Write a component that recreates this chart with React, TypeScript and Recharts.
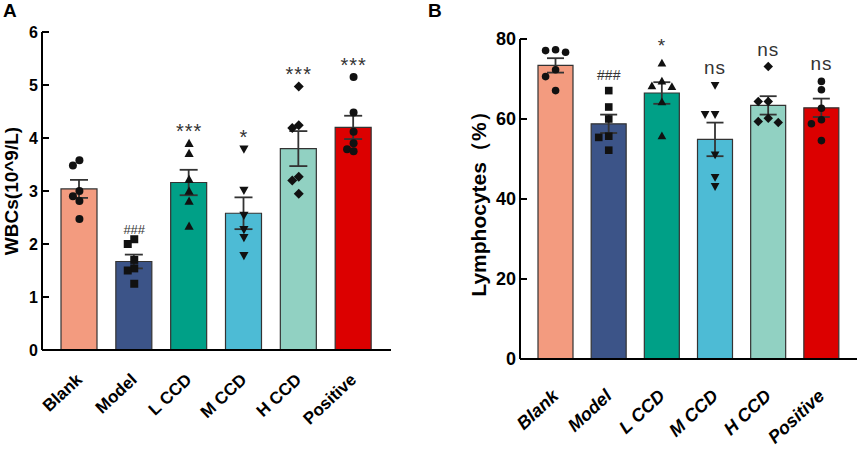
import React from 'react';
import { ComposedChart, Bar, Cell, ErrorBar, Scatter, XAxis, YAxis } from 'recharts';

const groups = ['Blank', 'Model', 'L CCD', 'M CCD', 'H CCD', 'Positive'];
const barColors = ['#F39B7F', '#3C5488', '#00A087', '#4DBBD5', '#91D1C2', '#DC0000'];
const markers = ['circle', 'square', 'triangle', 'triangleDown', 'diamond', 'circle'];

// panel A: WBCs (10^9/L)
const wbcMean = [3.04, 1.67, 3.16, 2.58, 3.80, 4.20];
const wbcSem = [0.17, 0.13, 0.24, 0.30, 0.33, 0.22];
const wbcPoints = [
    [3.48, 3.58, 3.00, 2.90, 2.81, 2.47],
    [2.09, 2.00, 1.70, 1.54, 1.50, 1.25],
    [3.90, 3.71, 3.22, 3.00, 2.81, 2.34],
    [3.79, 3.01, 2.54, 2.27, 2.12, 1.78],
    [4.97, 4.24, 4.19, 3.27, 3.20, 2.95],
    [5.15, 4.48, 4.12, 3.90, 3.79, 3.75],
];
const wbcSig = ['', '###', '***', '*', '***', '***'];
const wbcTicks = [0, 1, 2, 3, 4, 5, 6];

// panel B: Lymphocytes (%)
const lymMean = [73.4, 58.8, 66.5, 54.9, 63.4, 62.8];
const lymSem = [1.8, 2.3, 2.7, 4.2, 2.3, 2.3];
const lymPoints = [
    [77.1, 76.7, 77.3, 72.3, 70.6, 67.1],
    [67.1, 63.0, 60.0, 55.7, 55.4, 52.2],
    [74.0, 69.5, 68.3, 68.1, 64.3, 55.8],
    [68.4, 61.1, 61.1, 51.0, 45.4, 43.1],
    [73.1, 64.4, 64.4, 60.2, 59.4, 59.1],
    [69.4, 67.3, 62.7, 59.8, 58.8, 54.6],
];
const lymSig = ['', '###', '*', 'ns', 'ns', 'ns'];
const lymTicks = [0, 20, 40, 60, 80];

const FONT = 'Arial, "Liberation Sans", Helvetica, sans-serif';

// spread points that would overlap into side-by-side slots
const swarm = (values: number[], gap: number): number[] => {
    const order = values.map((_, i) => i).sort((a, b) => values[b] - values[a]);
    const slots = values.map(() => 0);
    const placed: number[] = [];
    for (const i of order) {
        for (const s of [0, -1, 1, -2, 2]) {
            const hit = placed.some(j => slots[j] === s && Math.abs(values[j] - values[i]) < gap);
            if (!hit) { slots[i] = s; break; }
        }
        placed.push(i);
    }
    return slots;
};

const buildRows = (mean: number[], sem: number[], pts: number[][], sig: string[], gap: number) =>
    groups.map((name, g) => {
        const row: any = { name, mean: mean[g], sem: sem[g], sig: sig[g], top: Math.max(...pts[g]) };
        const slots = swarm(pts[g], gap);
        pts[g].forEach((v, i) => {
            row[`p${i}`] = v;
            row[`s${i}`] = slots[i];
        });
        return row;
    });

const Marker = ({ cx, cy, kind, r }: { cx: number; cy: number; kind: string; r: number }) => {
    const fill = '#111';
    if (kind === 'square') return <rect x={cx - r} y={cy - r} width={2 * r} height={2 * r} fill={fill} />;
    if (kind === 'triangle') {
        const h = r * 1.15;
        return <polygon points={`${cx},${cy - h} ${cx + h},${cy + h * 0.8} ${cx - h},${cy + h * 0.8}`} fill={fill} />;
    }
    if (kind === 'triangleDown') {
        const h = r * 1.15;
        return <polygon points={`${cx},${cy + h} ${cx + h},${cy - h * 0.8} ${cx - h},${cy - h * 0.8}`} fill={fill} />;
    }
    if (kind === 'diamond') {
        const h = r * 1.25;
        return <polygon points={`${cx},${cy - h} ${cx + h},${cy} ${cx},${cy + h} ${cx - h},${cy}`} fill={fill} />;
    }
    return <circle cx={cx} cy={cy} r={r} fill={fill} />;
};

interface PanelProps {
    rows: any[];
    width: number;
    height: number;
    top: number;
    right: number;
    yWidth: number;
    xHeight: number;
    domainMax: number;
    ticks: number[];
    yLabel: string;
    yLabelX: number;
    yLabelSize: number;
    tickSize: number;
    xFont: number;
    xItalic: boolean;
    xDx: number;
    xDy: number;
    barSize: number;
    pad: number;
    capWidth: number;
    slotWidth: number;
    markerR: number;
    sigLift: number;
    sigSize: number;
    hashSize: number;
}

const Panel: React.FC<PanelProps> = (p) => {
    const yTick = (props: any) => {
        const { x, y, payload } = props;
        return (
            <g>
                <line x1={x} x2={x + 7} y1={y} y2={y} stroke="#000" strokeWidth={2} />
                <text x={x - 4} y={y} textAnchor="end" dominantBaseline="central"
                    fontFamily={FONT} fontWeight="bold" fontSize={p.tickSize} fill="#000">
                    {payload.value}
                </text>
            </g>
        );
    };
    const xTick = (props: any) => {
        const { x, y, payload } = props;
        return (
            <g transform={`translate(${Number(x) + p.xDx},${Number(y) + p.xDy}) rotate(-43)`}>
                <text x={0} y={0} textAnchor="end" dominantBaseline="central"
                    fontFamily={FONT} fontWeight="bold" fontStyle={p.xItalic ? 'italic' : 'normal'}
                    fontSize={p.xFont} fill="#000">
                    {payload.value}
                </text>
            </g>
        );
    };
    const yLabel = (props: any) => {
        const vb = props.viewBox || { x: 0, y: p.top, width: p.yWidth, height: 0 };
        const cx = vb.x + p.yLabelX;
        const cy = vb.y + vb.height / 2;
        return (
            <text x={cx} y={cy} transform={`rotate(-90 ${cx} ${cy})`} textAnchor="middle" dominantBaseline="central"
                fontFamily={FONT} fontWeight="bold" fontSize={p.yLabelSize} fill="#000">
                {p.yLabel}
            </text>
        );
    };
    const sigShape = (props: any) => {
        const { cx, cy, payload } = props;
        if (!payload.sig) return <g />;
        const isHash = payload.sig.includes('#');
        return (
            <text x={cx} y={cy - p.sigLift} textAnchor="middle" fontFamily={FONT}
                fontSize={isHash ? p.hashSize : p.sigSize} fill="#333" letterSpacing={isHash ? 0 : 1}>
                {payload.sig}
            </text>
        );
    };

    return (
        <ComposedChart width={p.width} height={p.height} data={p.rows}
            margin={{ top: p.top, right: p.right, bottom: 0, left: 0 }}>
            <XAxis dataKey="name" type="category" height={p.xHeight} padding={{ left: p.pad, right: p.pad }}
                axisLine={{ stroke: '#000', strokeWidth: 2 }} tickLine={false} tickSize={0} tickMargin={0}
                interval={0} tick={xTick} />
            <YAxis type="number" domain={[0, p.domainMax]} ticks={p.ticks} interval={0} width={p.yWidth}
                axisLine={{ stroke: '#000', strokeWidth: 2 }} tickLine={false} tickSize={0} tickMargin={0}
                tick={yTick} label={yLabel} />
            <Bar dataKey="mean" barSize={p.barSize} stroke="#333" strokeWidth={1.2} isAnimationActive={false}>
                {p.rows.map((r, i) => <Cell key={r.name} fill={barColors[i]} />)}
                <ErrorBar dataKey="sem" direction="y" width={p.capWidth} stroke="#333" strokeWidth={1.8} />
            </Bar>
            {[0, 1, 2, 3, 4, 5].map(i => (
                <Scatter key={i} dataKey={`p${i}`} isAnimationActive={false}
                    shape={(props: any) => {
                        const g = groups.indexOf(props.payload.name);
                        const off = (props.payload[`s${i}`] || 0) * p.slotWidth;
                        return <Marker cx={props.cx + off} cy={props.cy} kind={markers[g]} r={p.markerR} />;
                    }} />
            ))}
            <Scatter dataKey="top" isAnimationActive={false} shape={sigShape} />
        </ComposedChart>
    );
};

const wbcRows = buildRows(wbcMean, wbcSem, wbcPoints, wbcSig, 0.14);
const lymRows = buildRows(lymMean, lymSem, lymPoints, lymSig, 1.9);

export default function App() {
    return (
        <div style={{ position: 'absolute', left: 0, top: 0, width: 858, height: 450, background: '#fff', overflow: 'hidden' }}>
            <div style={{ position: 'absolute', left: 0, top: 0 }}>
                <Panel rows={wbcRows} width={430} height={450} top={32} right={39} yWidth={42} xHeight={100}
                    domainMax={6} ticks={wbcTicks} yLabel="WBCs(10^9/L)" yLabelX={11} yLabelSize={19}
                    tickSize={16} xFont={17} xItalic={false} xDx={0} xDy={27} barSize={36} pad={10} capWidth={9}
                    slotWidth={6.5} markerR={4} sigLift={5.5} sigSize={20} hashSize={13} />
            </div>
            <div style={{ position: 'absolute', left: 430, top: 0 }}>
                <Panel rows={lymRows} width={428} height={450} top={39} right={1} yWidth={90} xHeight={91}
                    domainMax={80} ticks={lymTicks} yLabel="Lymphocytes（%）" yLabelX={48} yLabelSize={21}
                    tickSize={18} xFont={18} xItalic={true} xDx={0} xDy={34} barSize={35} pad={9} capWidth={8.5}
                    slotWidth={10} markerR={3.8} sigLift={11} sigSize={19} hashSize={14} />
            </div>
            <div style={{ position: 'absolute', left: 3, top: 0, fontFamily: FONT, fontWeight: 'bold', fontSize: 19 }}>A</div>
            <div style={{ position: 'absolute', left: 428, top: 0, fontFamily: FONT, fontWeight: 'bold', fontSize: 19 }}>B</div>
        </div>
    );
}
